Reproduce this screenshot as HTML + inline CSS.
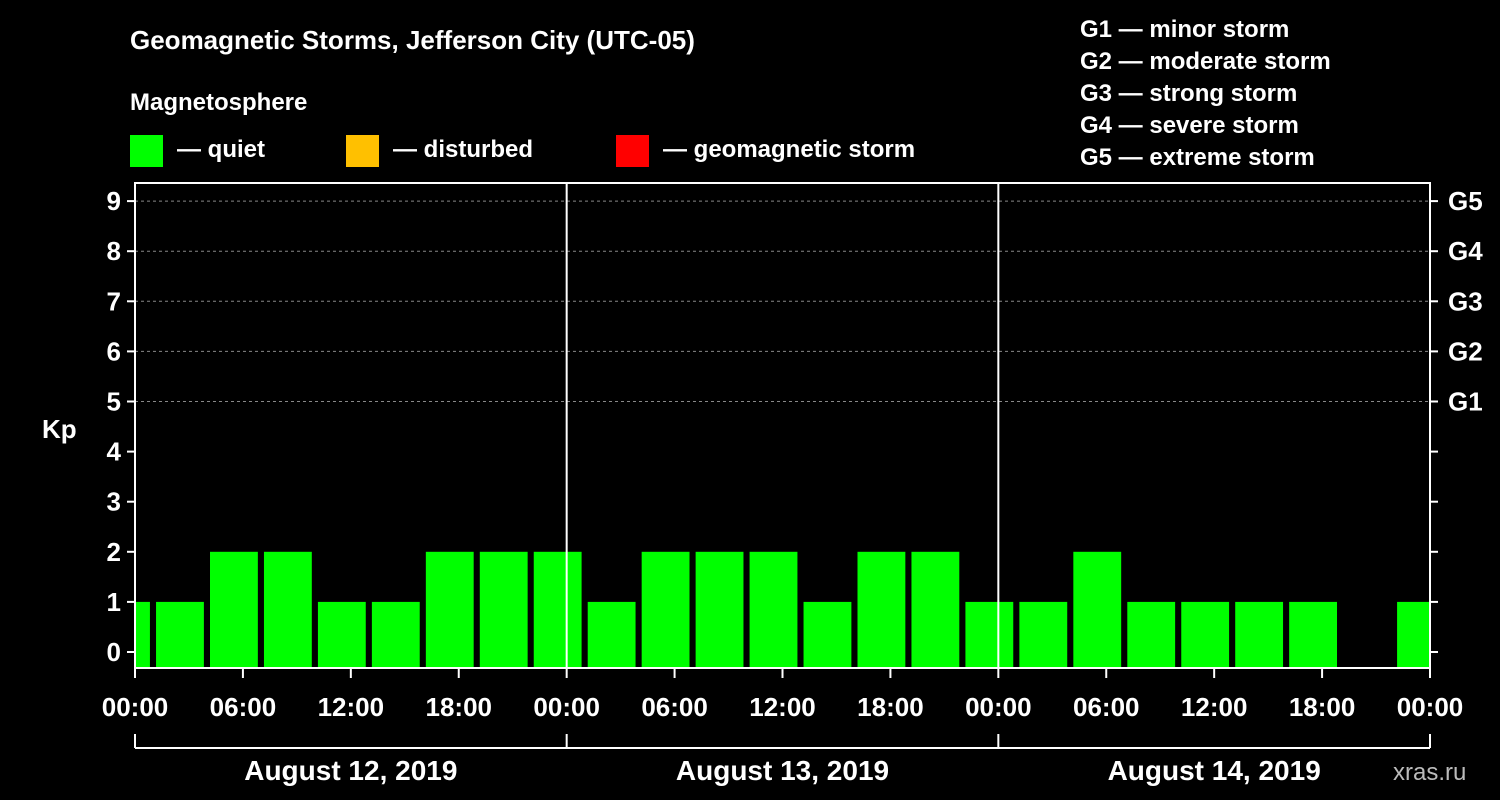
<!DOCTYPE html>
<html><head><meta charset="utf-8"><style>
body{margin:0;background:#000;}
svg{display:block;font-family:"Liberation Sans",Arial,sans-serif;font-weight:bold;}
</style></head><body>
<svg id="chart" width="1500" height="800" viewBox="0 0 1500 800">
<rect width="1500" height="800" fill="#000"/>
<text x="130" y="49" fill="#fff" font-size="26">Geomagnetic Storms, Jefferson City (UTC-05)</text>
<text x="130" y="110" fill="#fff" font-size="24">Magnetosphere</text>
<g><rect x="130" y="135" width="33" height="32" fill="#00ff00"/><text x="177" y="157" fill="#fff" font-size="24">— quiet</text></g>
<g><rect x="346" y="135" width="33" height="32" fill="#ffc000"/><text x="393" y="157" fill="#fff" font-size="24">— disturbed</text></g>
<g><rect x="616" y="135" width="33" height="32" fill="#ff0000"/><text x="663" y="157" fill="#fff" font-size="24">— geomagnetic storm</text></g>
<g fill="#fff" font-size="24">
<text x="1080" y="37">G1 — minor storm</text>
<text x="1080" y="69">G2 — moderate storm</text>
<text x="1080" y="101">G3 — strong storm</text>
<text x="1080" y="133">G4 — severe storm</text>
<text x="1080" y="165">G5 — extreme storm</text>
</g>
<text x="42" y="438" fill="#fff" font-size="26">Kp</text>
<g id="grid"></g><g id="bars"></g><g id="axes"></g>
<text x="1393" y="780" fill="#bbb" font-size="24" font-weight="normal">xras.ru</text>
</svg>
<script>
const kpValues=[1,1,2,2,1,1,2,2,2,1,2,2,2,1,2,2,1,1,2,1,1,1,1,null,1];
const dayLabels=["August 12, 2019","August 13, 2019","August 14, 2019"];
const timeLabels=["00:00","06:00","12:00","18:00"];
const gLabels=["G1","G2","G3","G4","G5"];
const X0=135,X1=1430,HOURS=72,YTOP=183,YBOT=668;
const x=h=>X0+(X1-X0)*h/HOURS;
const y=k=>652-50.1*k;
const NS="http://www.w3.org/2000/svg";
function mk(tag,attrs,parent,txt){const e=document.createElementNS(NS,tag);for(const k in attrs)e.setAttribute(k,attrs[k]);if(txt!==undefined)e.textContent=txt;parent.appendChild(e);return e;}
const grid=document.getElementById('grid'),bars=document.getElementById('bars'),axes=document.getElementById('axes');
for(let k=5;k<=9;k++){const l=mk('line',{x1:X0,x2:X1,y1:y(k),y2:y(k),stroke:'#888','stroke-dasharray':'3,3'},grid);

}
kpValues.forEach((v,i)=>{if(v===null)return;
const a=Math.max(0,3*i-1.83),b=Math.min(HOURS,3*i+0.83);
const col=v>=5?'#ff0000':(v>=4?'#ffc000':'#00ff00');
const r=mk('rect',{x:x(a),y:y(v),width:x(b)-x(a),height:YBOT-y(v),fill:col},bars);

});
for(let d=1;d<3;d++){const l=mk('line',{x1:x(24*d),x2:x(24*d),y1:YTOP,y2:YBOT,stroke:'#fff','stroke-width':2},axes);

}
const f=mk('rect',{x:X0,y:YTOP,width:X1-X0,height:YBOT-YTOP,fill:'none',stroke:'#fff','stroke-width':2},axes);


for(let k=0;k<=9;k++){
mk('line',{x1:X0-8,x2:X0,y1:y(k),y2:y(k),stroke:'#fff','stroke-width':2},axes);
mk('line',{x1:X1,x2:X1+8,y1:y(k),y2:y(k),stroke:'#fff','stroke-width':2},axes);
const t=mk('text',{x:X0-14,y:y(k)+9,fill:'#fff','font-size':26,'text-anchor':'end'},axes,String(k));

}
gLabels.forEach((g,i)=>{const t=mk('text',{x:X1+18,y:y(5+i)+9,fill:'#fff','font-size':26},axes,g);

});
for(let h=0;h<=HOURS;h+=6){
mk('line',{x1:x(h),x2:x(h),y1:YBOT,y2:YBOT+10,stroke:'#fff','stroke-width':2},axes);
const t=mk('text',{x:x(h),y:716,fill:'#fff','font-size':26,'text-anchor':'middle'},axes,timeLabels[(h/6)%4]);

}
mk('line',{x1:X0,x2:X1,y1:748,y2:748,stroke:'#fff','stroke-width':2},axes);
for(let d=0;d<=3;d++)mk('line',{x1:x(24*d),x2:x(24*d),y1:734,y2:748,stroke:'#fff','stroke-width':2},axes);
dayLabels.forEach((s,d)=>{const t=mk('text',{x:x(24*d+12),y:780,fill:'#fff','font-size':28,'text-anchor':'middle'},axes,s);

});
</script>
</body></html>
